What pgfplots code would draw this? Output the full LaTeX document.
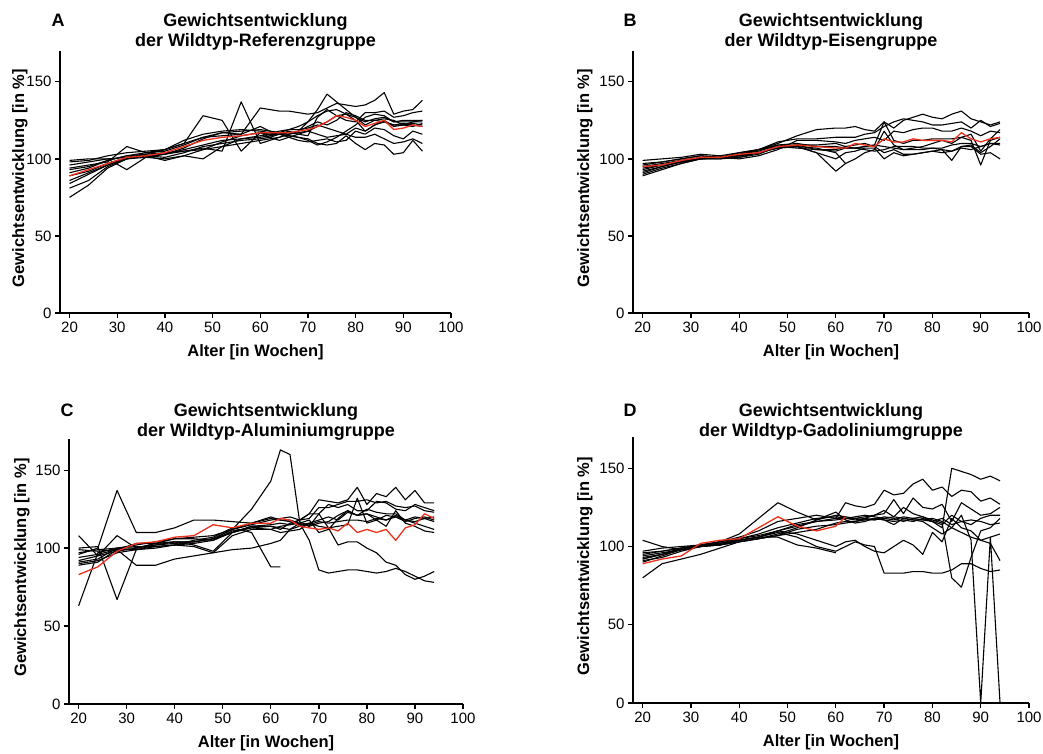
\documentclass[border=0pt]{standalone}
\usepackage{fontspec}
\setmainfont{Liberation Sans}
\usepackage{pgfplots}
\usepackage{pgfplotstable}
\pgfplotsset{compat=1.18}
\definecolor{meanred}{RGB}{236,48,28}

\pgfplotstableread{
name 20 24 28 32 36 40 44 48 52 56 60 62 64 66 68 70 72 74 76 78 80 82 84 86 88 90 92 94
A1 99 100 100 101 102 103 107 113 117 118 119 118 117 116 117 118 121 124 128 129 127 124 126 127 124 124 124 124
A2 98 99 102 104 105 106 110 128 125 105 117 116 118 119 121 124 128 131 132 129 125 118 122 125 121 122 123 122
A3 96 98 100 93 101 103 105 107 105 137 110 112 114 116 118 124 132 142 137 132 127 122 125 124 122 122 121 123
A4 94 96 98 108 104 105 109 114 117 116 133 132 131 131 130 129 130 133 136 135 134 135 138 143 129 131 132 138
A5 93 95 99 102 104 106 112 116 118 119 118 117 116 115 114 113 110 109 110 115 110 106 110 109 103 104 112 105
A6 91 94 99 102 103 104 105 106 108 110 112 113 114 116 118 121 124 122 125 130 128 125 125 126 125 122 124 125
A7 89 92 97 101 103 106 110 114 115 116 121 118 117 119 119 120 122 120 118 116 120 118 122 124 122 123 122 121
A8 86 91 96 101 102 99 102 106 111 115 117 114 112 114 116 118 116 114 115 116 114 114 116 113 110 111 113 110
A9 84 90 96 100 101 100 102 100 108 113 114 115 116 114 112 111 112 113 111 112 118 116 120 119 115 113 118 116
A10 81 86 95 100 102 101 104 108 110 112 113 114 116 118 116 115 127 132 128 125 124 130 130 131 127 128 130 131
A11 75 83 94 100 102 103 106 109 112 113 115 116 116 115 114 112 109 111 114 118 122 127 129 128 124 125 125 125
RA 89 93 97 101 102 104 108 112 114 115 117 117 117 117 118 119 121 124 128 127 125 121 123 125 119 120 122 121
}\rawA
\pgfplotstabletranspose[colnames from=name]\tabA{\rawA}

\pgfplotstableread{
name 20 24 28 32 36 40 44 48 52 56 60 62 64 66 68 70 72 74 76 78 80 82 84 86 88 90 92 94
B1 99 100 101 103 102 104 106 110 115 119 120 120 121 119 118 124 120 125 127 129 127 126 129 131 126 124 122 124
B2 97 98 100 102 101 103 106 111 113 113 114 114 114 116 117 121 124 126 125 124 122 122 123 124 120 125 121 123
B3 96 98 100 102 101 104 106 108 109 106 105 107 107 108 109 124 112 110 112 112 113 113 113 114 116 105 113 119
B4 95 97 99 101 101 102 104 107 108 104 92 97 100 104 106 118 109 106 106 106 107 106 99 108 109 104 108 113
B5 94 96 99 100 101 103 105 109 110 108 108 107 107 108 109 108 107 106 107 108 110 112 110 114 112 96 112 114
B6 93 96 98 100 100 102 104 108 107 106 106 108 109 110 108 104 106 103 103 104 105 104 105 107 106 108 110 110
B7 92 95 98 101 101 102 106 109 108 104 100 104 105 107 107 100 104 102 103 104 105 106 105 108 108 103 104 100
B8 91 95 98 100 101 101 103 108 109 109 110 108 107 106 105 106 108 108 108 107 107 107 109 110 110 108 110 109
B9 90 94 97 100 101 100 102 106 112 112 111 110 112 113 114 112 118 117 119 120 120 118 118 120 118 115 118 117
B10 89 93 97 100 100 101 104 107 108 107 104 97 nan nan nan nan nan nan nan nan nan nan nan nan nan nan nan nan
RB 95 96 99 101 101 103 104 108 109 108 107 107 110 109 108 113 111 111 113 112 112 112 111 117 113 111 113 114
}\rawB
\pgfplotstabletranspose[colnames from=name]\tabB{\rawB}

\pgfplotstableread{
name 20 24 28 32 36 40 44 48 52 56 60 62 64 66 68 70 72 74 76 78 80 82 84 86 88 90 92 94
C1 63 97 100 100 103 104 104 106 112 115 118 119 120 118 122 131 130 129 131 139 128 135 133 139 131 137 129 129
C2 108 95 108 100 103 106 107 108 112 116 119 118 118 116 114 116 117 121 124 121 125 123 122 122 118 120 119 117
C3 96 100 137 110 110 113 118 118 117 116 120 118 117 115 116 118 120 118 123 121 122 118 121 120 117 119 120 118
C4 100 101 67 99 101 102 103 105 110 114 114 113 112 114 115 117 116 117 118 118 117 119 118 121 118 116 114 112
C5 99 98 99 89 89 93 95 97 99 100 103 105 112 116 118 110 112 119 124 121 122 120 118 120 118 117 119 120
C6 94 96 99 103 103 104 104 106 112 125 143 163 160 117 114 122 128 126 128 124 124 130 129 125 124 128 126 124
C7 97 99 100 101 101 102 105 107 113 110 88 88 nan nan nan nan nan nan nan nan nan nan nan nan nan nan nan nan
C8 92 95 98 100 102 103 104 106 110 114 115 116 115 116 105 86 84 85 86 86 85 84 85 87 85 82 79 78
C9 91 93 100 102 104 106 106 105 111 113 112 114 115 118 122 122 113 102 104 104 100 97 91 89 83 80 82 85
C10 90 92 97 99 102 104 102 98 110 113 114 112 116 118 119 126 126 128 130 130 131 129 130 127 126 127 124 123
C11 89 91 99 99 100 102 101 97 108 112 112 110 111 112 116 114 113 114 115 132 116 118 114 124 116 114 111 110
RC 83 88 98 103 104 107 108 115 113 116 116 119 118 114 113 112 113 111 116 110 112 110 112 105 113 115 122 119
}\rawC
\pgfplotstabletranspose[colnames from=name]\tabC{\rawC}

\pgfplotstableread{
name 20 24 28 32 36 40 44 48 52 56 60 62 64 66 68 70 72 74 76 78 80 82 84 86 88 90 92 94
D1 95 97 99 101 102 104 106 110 114 116 117 118 118 117 117 119 118 116 118 117 116 112 150 148 146 143 145 142
D2 92 95 99 101 103 106 110 116 118 120 118 128 126 125 127 136 133 134 140 143 136 138 132 136 135 129 131 127
D3 97 99 100 101 103 108 118 128 122 117 120 119 118 119 120 121 130 121 131 125 124 127 116 128 124 120 121 125
D4 94 96 98 100 102 105 108 112 115 118 119 118 117 118 117 118 119 118 117 117 118 116 112 120 104 0 106 0
D5 93 95 98 100 102 104 106 110 113 116 118 118 119 120 119 118 117 119 118 119 117 115 80 74 93 110 112 118
D6 90 94 98 100 101 104 106 109 106 100 97 100 103 101 100 83 83 83 84 84 83 83 85 89 89 86 84 85
D7 92 95 98 101 103 105 107 110 108 104 100 103 104 100 97 96 100 104 101 95 109 103 118 112 110 104 106 108
D8 80 89 92 95 99 103 105 107 111 113 114 115 116 118 120 123 119 125 121 119 116 114 120 116 114 118 120 120
D9 104 100 98 100 101 103 105 107 109 111 115 116 116 117 118 117 116 117 116 118 116 118 114 116 117 116 114 115
D10 96 97 99 101 101 104 106 106 101 99 96 nan nan nan nan nan nan nan nan nan nan nan nan nan nan nan nan nan
D11 91 93 97 100 101 103 105 108 112 117 122 117 115 116 118 117 114 118 117 116 112 108 112 109 106 104 102 91
RD 89 92 94 102 104 105 112 119 113 110 113 119 nan nan nan nan nan nan nan nan nan nan nan nan nan nan nan nan
}\rawD
\pgfplotstabletranspose[colnames from=name]\tabD{\rawD}

\pgfplotsset{
  panel/.style={
    scale only axis,
    xmin=18, xmax=100, ymin=0, ymax=170,
    axis x line*=bottom, axis y line*=left,
    xtick={20,30,...,100}, ytick={0,50,100,150},
    tick align=outside, major tick length=5pt,
    every tick/.style={black, line width=1.3pt},
    axis line style={black, line width=1.7pt},
    ticklabel style={font=\fontsize{15}{17}\selectfont},
    /pgf/number format/assume math mode=true,
    xlabel={Alter [in Wochen]},
    ylabel={Gewichtsentwicklung [in \%]},
    xlabel style={font=\bfseries\fontsize{16.5}{19}\selectfont, at={([yshift=-39pt]axis description cs:0.5,0)}, anchor=center},
    unbounded coords=jump,
    clip=false,
  },
  yl/.style={ylabel style={font=\bfseries\fontsize{16.5}{19}\selectfont, at={([xshift=-#1]axis description cs:0,0.515)}, anchor=center}},
  bl/.style={black, line width=1.1pt, line join=round},
  rl/.style={meanred, line width=1.3pt, line join=round},
}
\tikzset{ttl/.style={font=\bfseries\fontsize{18}{21}\selectfont, anchor=base, inner sep=0pt}}

\begin{document}
\begin{tikzpicture}[x=1pt,y=1pt]
\useasboundingbox (0,0) rectangle (1043,754);

% Panel A
\begin{axis}[panel, yl=40pt, at={(60pt,441pt)}, anchor=south west, width=391pt, height=262pt]
\foreach \s in {A1,A2,A3,A4,A5,A6,A7,A8,A9,A10,A11}{\addplot[bl] table[x=colnames,y=\s]{\tabA};}
\addplot[rl] table[x=colnames,y=RA]{\tabA};
\end{axis}

% Panel B
\begin{axis}[panel, yl=48pt, at={(633pt,441pt)}, anchor=south west, width=396pt, height=262pt]
\foreach \s in {B1,B2,B3,B4,B5,B6,B7,B8,B9,B10}{\addplot[bl] table[x=colnames,y=\s]{\tabB};}
\addplot[rl] table[x=colnames,y=RB]{\tabB};
\end{axis}

% Panel C
\begin{axis}[panel, yl=47pt, at={(69pt,50pt)}, anchor=south west, width=394pt, height=265pt]
\foreach \s in {C1,C2,C3,C4,C5,C6,C7,C8,C9,C10,C11}{\addplot[bl] table[x=colnames,y=\s]{\tabC};}
\addplot[rl] table[x=colnames,y=RC]{\tabC};
\end{axis}

% Panel D
\begin{axis}[panel, yl=48pt, at={(633pt,51pt)}, anchor=south west, width=396pt, height=266pt]
\foreach \s in {D1,D2,D3,D4,D5,D6,D7,D8,D9,D10,D11}{\addplot[bl] table[x=colnames,y=\s]{\tabD};}
\addplot[rl] table[x=colnames,y=RD]{\tabD};
\end{axis}

% Titles
\node[ttl] at (58,727) {A};
\node[ttl] at (255.5,727) {Gewichtsentwicklung};
\node[ttl] at (255.5,707) {der Wildtyp-Referenzgruppe};
\node[ttl] at (630,727) {B};
\node[ttl] at (831,727) {Gewichtsentwicklung};
\node[ttl] at (831,707) {der Wildtyp-Eisengruppe};
\node[ttl] at (67,337.5) {C};
\node[ttl] at (266,337.5) {Gewichtsentwicklung};
\node[ttl] at (266,317) {der Wildtyp-Aluminiumgruppe};
\node[ttl] at (630,337.5) {D};
\node[ttl] at (831,337.5) {Gewichtsentwicklung};
\node[ttl] at (831,317) {der Wildtyp-Gadoliniumgruppe};
\end{tikzpicture}
\end{document}
